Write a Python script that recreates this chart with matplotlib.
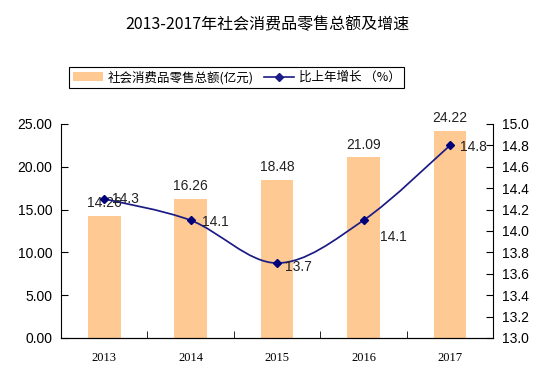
import matplotlib.pyplot as plt
from matplotlib.path import Path
from matplotlib.patches import PathPatch
from matplotlib.lines import Line2D
from matplotlib.patches import Patch

plt.rcParams['font.family'] = ['Liberation Sans', 'Noto Sans CJK SC', 'DejaVu Sans']

# 数据
years = ['2013', '2014', '2015', '2016', '2017']
sales = [14.26, 16.26, 18.48, 21.09, 24.22]     # 社会消费品零售总额(万亿元)
growth = [14.3, 14.1, 13.7, 14.1, 14.8]         # 比上年增长(%)
growth_offsets = [(6, 0), (8, -1), (6, -3), (12, -12), (7, -1)]

bar_color = '#FFC993'
line_color = '#1B1B85'

fig = plt.figure(figsize=(5.58, 3.78), dpi=100)
ax = fig.add_axes([0.109, 0.106, 0.775, 0.566])
x = list(range(len(years)))

ax.bar(x, sales, width=0.38, color=bar_color, zorder=1)
for xi, v in zip(x, sales):
    ax.annotate(f'{v:.2f}', (xi, v), xytext=(0, 4), textcoords='offset points',
                ha='center', va='bottom', fontsize=10, color='#222222')

ax.set_xlim(-0.5, len(years) - 0.5)
ax.set_ylim(0, 25)
ax.set_yticks([0, 5, 10, 15, 20, 25])
ax.set_yticklabels([f'{t:.2f}' for t in [0, 5, 10, 15, 20, 25]], fontsize=10)
ax.set_xticks(x)
ax.set_xticklabels(years, fontsize=9, family='Liberation Serif')
ax.set_xticks([i + 0.5 for i in range(len(years) - 1)], minor=True)
ax.tick_params(axis='x', which='major', length=0, pad=10)
ax.tick_params(axis='x', which='minor', direction='in', length=5)
ax.tick_params(axis='y', direction='in', length=5, pad=6)
ax.spines['top'].set_visible(False)
ax.spines['right'].set_visible(False)

ax2 = ax.twinx()
ax2.set_ylim(13.0, 15.0)
ticks2 = [13.0 + 0.2 * i for i in range(11)]
ax2.set_yticks(ticks2)
ax2.set_yticklabels([f'{t:.1f}' for t in ticks2], fontsize=10)
ax2.tick_params(axis='y', direction='in', length=5, pad=6)
ax2.spines['top'].set_visible(False)
ax2.spines['left'].set_visible(False)

# 平滑折线（贝塞尔曲线穿过各数据点）
pts = list(zip(x, growth))
verts = [pts[0]]
codes = [Path.MOVETO]
for i in range(len(pts) - 1):
    p0 = pts[i - 1] if i > 0 else pts[i]
    p1 = pts[i]
    p2 = pts[i + 1]
    p3 = pts[i + 2] if i + 2 < len(pts) else pts[i + 1]
    c1 = (p1[0] + (p2[0] - p0[0]) / 6, p1[1] + (p2[1] - p0[1]) / 6)
    c2 = (p2[0] - (p3[0] - p1[0]) / 6, p2[1] - (p3[1] - p1[1]) / 6)
    verts += [c1, c2, p2]
    codes += [Path.CURVE4] * 3
ax2.add_patch(PathPatch(Path(verts, codes), facecolor='none',
                        edgecolor=line_color, linewidth=1.25, zorder=3))
ax2.plot(x, growth, linestyle='none', marker='D', markersize=4.5,
         color='#00007A', zorder=4)
for xi, v, off in zip(x, growth, growth_offsets):
    ax2.annotate(f'{v}', (xi, v), xytext=off, textcoords='offset points',
                 ha='left', va='center', fontsize=10, color='#222222')

fig.text(0.48, 0.935, '2013-2017年社会消费品零售总额及增速', ha='center',
         va='center', fontsize=11.5, family=['Noto Sans CJK SC', 'DejaVu Sans'])

handles = [Patch(facecolor=bar_color, edgecolor='none'),
           Line2D([], [], color=line_color, marker='D', markersize=4, linewidth=1.2)]
leg = fig.legend(handles, ['社会消费品零售总额(亿元)', '比上年增长 （%）'],
                 loc='center', bbox_to_anchor=(0.424, 0.795), ncol=2,
                 fancybox=False, edgecolor='black', framealpha=1,
                 prop={'family': ['Noto Sans CJK SC', 'DejaVu Sans'], 'size': 9},
                 handlelength=2.4, handletextpad=0.4, columnspacing=0.8,
                 borderpad=0.3, borderaxespad=0)
leg.get_frame().set_linewidth(0.8)

fig.savefig('out.png', dpi=100)
